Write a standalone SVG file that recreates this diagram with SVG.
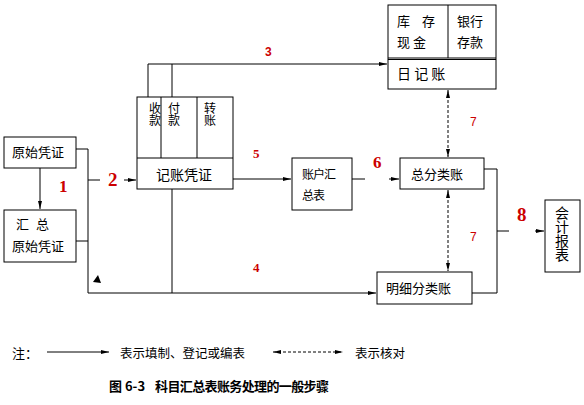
<svg xmlns="http://www.w3.org/2000/svg" width="584" height="405" viewBox="0 0 584 405">
<style>
.b{fill:#fff;stroke:#000;stroke-width:1}
.l{fill:none;stroke:#000;stroke-width:1}
.d{fill:none;stroke:#000;stroke-width:1;stroke-dasharray:3,2}
.t{font-family:"Noto Sans CJK SC","Liberation Sans",sans-serif;font-size:13px;fill:#000}
.v{font-family:"Noto Sans CJK SC","Liberation Sans",sans-serif;font-size:12px;fill:#000;writing-mode:vertical-rl;letter-spacing:0}
.n{font-family:"Liberation Serif",serif;font-weight:bold;fill:#cc0000}
.s{font-family:"Liberation Sans",sans-serif;font-size:12px;fill:#cc0000}
.cap{font-family:"Noto Sans CJK SC","Liberation Serif",serif;font-weight:bold;font-size:13px;fill:#000}
</style>
<defs>
<marker id="a" markerWidth="8" markerHeight="6" refX="8" refY="3" orient="auto" markerUnits="userSpaceOnUse">
<path d="M0,1 L8,3 L0,5 Z" fill="#000"/>
</marker>
<marker id="as" markerWidth="8" markerHeight="6" refX="0" refY="3" orient="auto" markerUnits="userSpaceOnUse">
<path d="M8,1 L0,3 L8,5 Z" fill="#000"/>
</marker>
</defs>
<rect width="584" height="405" fill="#fff"/>

<g id="yuanshi">
<rect class="b" x="4" y="137" width="72" height="31"/>
<text class="t" x="12" y="157">原始凭证</text>
</g>
<g id="huizong">
<rect class="b" x="4" y="210" width="72" height="52"/>
<text class="t" x="16" y="229">汇</text>
<text class="t" x="36" y="229">总</text>
<text class="t" x="12" y="251">原始凭证</text>
</g>
<g id="jizhang">
<rect class="b" x="137" y="97" width="96" height="92"/>
<line class="l" x1="137" y1="158" x2="233" y2="158"/>
<line class="l" x1="161" y1="97" x2="161" y2="158"/>
<line class="l" x1="197" y1="97" x2="197" y2="158"/>
<text class="v" x="155" y="102">收款</text>
<text class="v" x="174" y="102">付款</text>
<text class="v" x="210" y="102">转账</text>
<text class="t" x="156" y="180" style="font-size:14px">记账凭证</text>
</g>
<g id="rijizhang">
<rect class="b" x="388" y="5" width="108" height="84"/>
<line class="l" x1="388" y1="58" x2="496" y2="58"/>
<line class="l" x1="388" y1="59.5" x2="496" y2="59.5"/>
<line class="l" x1="448" y1="5" x2="448" y2="58"/>
<text class="t" x="397" y="26">库</text>
<text class="t" x="422" y="26">存</text>
<text class="t" x="397" y="47">现 金</text>
<text class="t" x="457" y="26">银行</text>
<text class="t" x="457" y="47">存款</text>
<text class="t" x="397" y="79" style="font-size:14px">日 记 账</text>
</g>
<g id="zhanghu">
<rect class="b" x="292" y="158" width="60" height="52"/>
<text class="t" x="302" y="179" style="font-size:12px" letter-spacing="-1">账户汇</text>
<text class="t" x="302" y="200" style="font-size:12px" letter-spacing="-1">总表</text>
</g>
<g id="zongfenlei">
<rect class="b" x="400" y="158" width="84" height="31"/>
<text class="t" x="411" y="179">总分类账</text>
</g>
<g id="mingxi">
<rect class="b" x="377" y="272" width="95" height="32"/>
<text class="t" x="386" y="293">明细分类账</text>
</g>
<g id="baobiao">
<rect class="b" x="545" y="200" width="35" height="72"/>
<text class="v" x="562" y="206" style="font-size:14px">会计报表</text>
</g>

<g id="connectors">
<line class="l" x1="40" y1="168" x2="40" y2="209" marker-end="url(#a)"/>
<polyline class="l" points="76,149 88,149 88,293 376,293" marker-end="url(#a)"/>
<line class="l" x1="76" y1="241" x2="88" y2="241"/>
<line class="l" x1="88" y1="180" x2="100" y2="180"/>
<line class="l" x1="124" y1="180" x2="136" y2="180" marker-end="url(#a)"/>
<polygon points="93,282 98,275 101,283" fill="#000"/>
<polyline class="l" points="148,97 148,64 387,64" marker-end="url(#a)"/>
<line class="l" x1="172" y1="97" x2="172" y2="64"/>
<line class="l" x1="233" y1="179" x2="291" y2="179" marker-end="url(#a)"/>
<line class="l" x1="172" y1="189" x2="172" y2="293"/>
<line class="l" x1="352" y1="179" x2="365" y2="179"/>
<line class="l" x1="389" y1="179" x2="399" y2="179" marker-end="url(#a)"/>
<line class="d" x1="448" y1="90" x2="448" y2="157" marker-start="url(#as)" marker-end="url(#a)"/>
<line class="d" x1="448" y1="190" x2="448" y2="271" marker-start="url(#as)" marker-end="url(#a)"/>
<polyline class="l" points="484,169 497,169 497,293 472,293"/>
<line class="l" x1="497" y1="231" x2="509" y2="231"/>
<line class="l" x1="535" y1="231" x2="544" y2="231" marker-end="url(#a)"/>
</g>

<g id="labels">
<text class="n" x="59" y="192" font-size="17">1</text>
<text class="n" x="108" y="186" font-size="19">2</text>
<text class="s" x="265" y="56" font-weight="bold">3</text>
<text class="n" x="253" y="272" font-size="13">4</text>
<text class="n" x="253" y="158" font-size="13">5</text>
<text class="n" x="373" y="168" font-size="17">6</text>
<text class="s" x="470" y="126">7</text>
<text class="s" x="470" y="241">7</text>
<text class="n" x="517" y="221" font-size="19">8</text>
</g>

<g id="legend">
<text class="t" x="12" y="358">注：</text>
<line class="l" x1="47" y1="352" x2="109" y2="352" marker-end="url(#a)"/>
<text class="t" x="120" y="358" style="font-size:12.5px">表示填制、登记或编表</text>
<line class="d" x1="273" y1="352" x2="343" y2="352" marker-start="url(#as)" marker-end="url(#a)"/>
<text class="t" x="355" y="358" style="font-size:12.5px">表示核对</text>
<text class="cap" x="109" y="391">图 6-3</text>
<text class="cap" x="155" y="391" textLength="174" lengthAdjust="spacing">科目汇总表账务处理的一般步骤</text>
</g>
</svg>
